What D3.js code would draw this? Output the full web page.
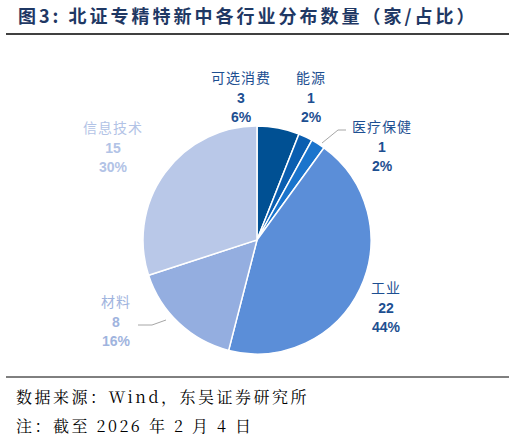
<!DOCTYPE html><html><head><meta charset="utf-8"><script src="https://cdn.jsdelivr.net/npm/d3@7"></script>
<style>body{margin:0;background:#fff}</style></head><body><svg id="c" width="515" height="443"></svg>
<script>
const categories=["可选消费","能源","医疗保健","工业","材料","信息技术"];
const values=[3,1,1,22,8,15];
const percents=["6%","2%","2%","44%","16%","30%"];
const colors=["#005093","#0a5eb0","#1a74cc","#5b8ed8","#94aee0","#b9c8e8"];
const labelColors=["#1d4f91","#1d4f91","#1d4f91","#1d4f91","#9fb4de","#b2c3e6"];
const labelPos=[[241,78],[311,78],[382,127],[386,288],[116,302],[113,128]];
const svg=d3.select("#c");
const F="'Noto Sans CJK SC',sans-serif";
const S="'Noto Serif CJK SC','Liberation Serif',serif";
svg.append("text").attr("x",18).attr("y",23).attr("font-family",F).attr("font-weight","bold").attr("font-size",18).attr("letter-spacing",3).attr("fill","#1f3864").text("图3:  北证专精特新中各行业分布数量（家/占比）");
svg.append("line").attr("x1",6).attr("x2",509).attr("y1",34).attr("y2",34).attr("stroke","#000").attr("stroke-width",1.5);
svg.append("line").attr("x1",6).attr("x2",509).attr("y1",377).attr("y2",377).attr("stroke","#000").attr("stroke-width",1);
svg.append("text").attr("x",16).attr("y",403).attr("font-family",S).attr("font-size",16).attr("letter-spacing",2.5).text("数据来源：Wind，东吴证券研究所");
svg.append("text").attr("x",16).attr("y",432).attr("font-family",S).attr("font-size",16).attr("letter-spacing",2.5).text("注：截至 2026 年 2 月 4 日");
const cx=257,cy=240,r=114;
const pie=d3.pie().sort(null).value(d=>d)(values);
const arc=d3.arc().innerRadius(0).outerRadius(r);
const g=svg.append("g").attr("transform",`translate(${cx},${cy})`);
g.selectAll("path").data(pie).join("path").attr("d",arc).attr("fill",(d,i)=>colors[i]).attr("stroke","#fff").attr("stroke-width",1.5);
svg.append("polyline").attr("points","322,143 338,130 346,130").attr("fill","none").attr("stroke","#a6a6a6");
svg.append("polyline").attr("points","138,325 152,325 166,320").attr("fill","none").attr("stroke","#a6a6a6");
categories.forEach((c,i)=>{
  const [x,y]=labelPos[i];
  const t=svg.append("text").attr("text-anchor","middle").attr("font-family",F).attr("font-weight","bold").attr("font-size",14).attr("fill",labelColors[i]);
  t.append("tspan").attr("x",x).attr("y",y+5).attr("font-weight","normal").attr("letter-spacing",1).text(c);
  [String(values[i]),percents[i]].forEach((s,k)=>t.append("tspan").attr("x",x).attr("y",y+5+(k+1)*19.5).attr("font-family","'Liberation Sans',Arial,sans-serif").text(s));
});
</script></body></html>
